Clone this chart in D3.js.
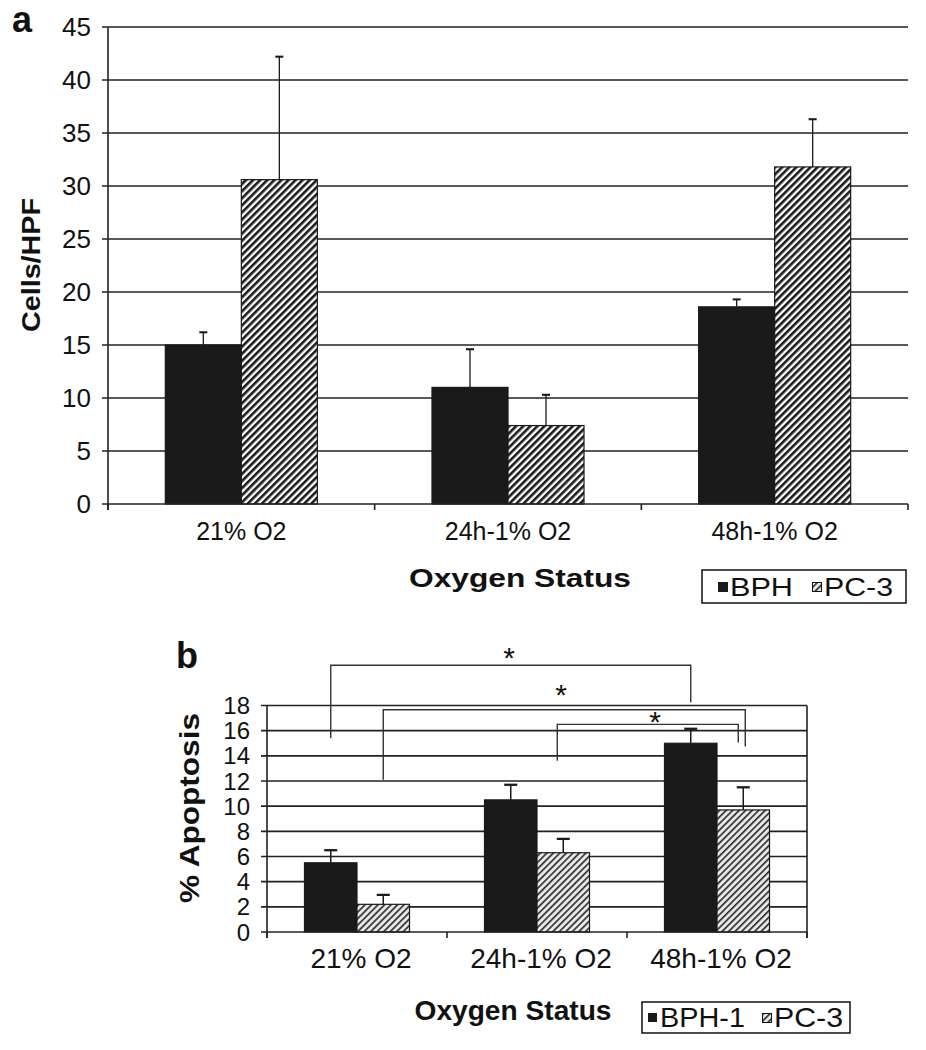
<!DOCTYPE html>
<html><head><meta charset="utf-8">
<script src="https://cdn.jsdelivr.net/npm/d3@7"></script>
<style>body{margin:0;background:#fff}svg{display:block}text{font-family:Arial,"Liberation Sans",Helvetica,sans-serif;fill:#111}</style>
</head><body>
<svg id="c" width="926" height="1050"></svg>
<script>
// ---------- data ----------
const categories = ["21% O2", "24h-1% O2", "48h-1% O2"];
// Panel a: Cells/HPF
const seriesA = ["BPH", "PC-3"];
const aBPH = [15.0, 11.0, 18.6];
const aBPHerr = [16.2, 14.6, 19.3];
const aPC3 = [30.6, 7.4, 31.8];
const aPC3err = [42.2, 10.3, 36.3];
const aTicks = [0, 5, 10, 15, 20, 25, 30, 35, 40, 45];
// Panel b: % Apoptosis
const seriesB = ["BPH-1", "PC-3"];
const bBPH = [5.5, 10.5, 15.0];
const bBPHerr = [6.5, 11.7, 16.15];
const bPC3 = [2.2, 6.3, 9.7];
const bPC3err = [2.95, 7.4, 11.5];
const bTicks = [0, 2, 4, 6, 8, 10, 12, 14, 16, 18];
// significance brackets: [catFrom, seriesFrom, catTo, seriesTo, level, dropFrom, dropTo, starLevel]
const brackets = [
  [0, 0, 2, 0, 21.2, 15.4, 18.25, 22.3],
  [0, 1, 2, 1, 17.66, 12.1, 14.75, 19.4],
  [1, 1, 2, 1, 16.5, 13.6, 15.05, 17.25]
];
const starX = [509, 561, 655];

const svg = d3.select("#c");
const defs = svg.append("defs");
const pa = defs.append("pattern").attr("id", "hatchA").attr("patternUnits", "userSpaceOnUse")
  .attr("width", 5).attr("height", 5).attr("patternTransform", "rotate(45)");
pa.append("rect").attr("width", 5).attr("height", 5).attr("fill", "#fff");
pa.append("rect").attr("width", 2.6).attr("height", 5).attr("fill", "#1a1a1a");
const pb = defs.append("pattern").attr("id", "hatchB").attr("patternUnits", "userSpaceOnUse")
  .attr("width", 4.6).attr("height", 4.6).attr("patternTransform", "rotate(45)");
pb.append("rect").attr("width", 4.6).attr("height", 4.6).attr("fill", "#e8e8e8");
pb.append("rect").attr("width", 1.7).attr("height", 4.6).attr("fill", "#333");

function panel(o) {
  const g = svg.append("g");
  const x = d3.scaleBand().domain(categories).range([o.left, o.right]).padding(0);
  const xs = d3.scaleBand().domain(o.series).range([0, x.bandwidth()]).paddingInner(0).paddingOuter(o.pad);
  const y = d3.scaleLinear().domain([0, o.ticks[o.ticks.length - 1]]).range([o.bottom, o.top]);
  g.append("g").selectAll("line").data(o.ticks.filter(t => t > 0)).join("line")
    .attr("x1", o.left - o.tick).attr("x2", o.right).attr("y1", d => y(d)).attr("y2", d => y(d))
    .attr("stroke", "#222").attr("stroke-width", o.gw);
  g.append("g").selectAll("text").data(o.ticks).join("text")
    .attr("x", o.labX).attr("y", d => y(d)).attr("dy", "0.36em").attr("text-anchor", "end")
    .attr("font-size", o.tfs).text(d => d);
  const rows = categories.map((c, i) => [
    { c, s: o.series[0], v: o.v1[i], e: o.e1[i], fill: "#1a1a1a" },
    { c, s: o.series[1], v: o.v2[i], e: o.e2[i], fill: o.hatch }
  ]).flat();
  g.append("g").selectAll("rect").data(rows).join("rect")
    .attr("x", d => x(d.c) + xs(d.s)).attr("width", xs.bandwidth())
    .attr("y", d => y(d.v)).attr("height", d => y(0) - y(d.v))
    .attr("fill", d => d.fill).attr("stroke", "#1a1a1a").attr("stroke-width", 1.2);
  const eb = g.append("g").attr("stroke", "#1a1a1a").attr("stroke-width", o.ew);
  rows.forEach(d => {
    const cx = x(d.c) + xs(d.s) + xs.bandwidth() / 2;
    eb.append("line").attr("x1", cx).attr("x2", cx).attr("y1", y(d.v)).attr("y2", y(d.e));
    eb.append("line").attr("x1", cx - o.cap / 2).attr("x2", cx + o.cap / 2).attr("y1", y(d.e)).attr("y2", y(d.e)).attr("stroke-width", o.ew + 0.8);
  });
  g.append("line").attr("x1", o.left).attr("x2", o.left).attr("y1", y(o.ticks[o.ticks.length - 1])).attr("y2", o.bottom + o.tick)
    .attr("stroke", "#222").attr("stroke-width", o.gw);
  g.append("line").attr("x1", o.left - o.tick).attr("x2", o.right).attr("y1", o.bottom).attr("y2", o.bottom)
    .attr("stroke", "#222").attr("stroke-width", o.gw);
  if (o.frame) g.append("line").attr("x1", o.right).attr("x2", o.right).attr("y1", o.top).attr("y2", o.bottom + o.tick)
    .attr("stroke", "#222").attr("stroke-width", o.gw);
  const bounds = categories.map(c => x(c)).concat([o.right]);
  g.append("g").selectAll("line").data(bounds).join("line")
    .attr("x1", d => d).attr("x2", d => d).attr("y1", o.bottom).attr("y2", o.bottom + o.tick)
    .attr("stroke", "#222").attr("stroke-width", o.gw);
  g.append("g").selectAll("text").data(categories).join("text")
    .attr("x", d => x(d) + x.bandwidth() / 2 + o.labDx).attr("y", o.xlabY).attr("text-anchor", "middle")
    .attr("font-size", o.xfs).text(d => d);
  return { g, x, xs, y };
}

// ---------- panel a ----------
const A = panel({ left: 108, right: 908, top: 27, bottom: 504, ticks: aTicks, series: seriesA,
  v1: aBPH, e1: aBPHerr, v2: aPC3, e2: aPC3err, hatch: "url(#hatchA)", pad: 0.754,
  tick: 6, gw: 1.6, ew: 1.3, cap: 8, labX: 91, tfs: 26, xfs: 25, xlabY: 540, labDx: 0, frame: false });
svg.append("text").attr("x", 12).attr("y", 32).attr("font-size", 36).attr("font-weight", "bold").text("a");
svg.append("text").attr("transform", "translate(40,265) rotate(-90)").attr("text-anchor", "middle")
  .attr("font-size", 26).attr("font-weight", "bold").attr("textLength", 134).attr("lengthAdjust", "spacingAndGlyphs").text("Cells/HPF");
svg.append("text").attr("x", 520).attr("y", 587).attr("text-anchor", "middle")
  .attr("font-size", 26).attr("font-weight", "bold").attr("textLength", 222).attr("lengthAdjust", "spacingAndGlyphs").text("Oxygen Status");
const la = svg.append("g");
la.append("rect").attr("x", 702).attr("y", 570).attr("width", 204).attr("height", 33).attr("fill", "#fff").attr("stroke", "#111").attr("stroke-width", 1.5);
la.append("rect").attr("x", 718).attr("y", 582).attr("width", 10).attr("height", 10).attr("fill", "#1a1a1a");
la.append("text").attr("x", 730).attr("y", 596).attr("font-size", 25).attr("textLength", 63).attr("lengthAdjust", "spacingAndGlyphs").text(seriesA[0]);
la.append("rect").attr("x", 812.5).attr("y", 582.5).attr("width", 9).attr("height", 9).attr("fill", "url(#hatchB)").attr("stroke", "#111").attr("stroke-width", 1);
la.append("text").attr("x", 824).attr("y", 596).attr("font-size", 25).attr("textLength", 69).attr("lengthAdjust", "spacingAndGlyphs").text(seriesA[1]);

// ---------- panel b ----------
const B = panel({ left: 267, right: 807, top: 705.5, bottom: 932, ticks: bTicks, series: seriesB,
  v1: bBPH, e1: bBPHerr, v2: bPC3, e2: bPC3err, hatch: "url(#hatchB)", pad: 0.714,
  tick: 6, gw: 1.6, ew: 1.5, cap: 13, labX: 250, tfs: 24, xfs: 28, xlabY: 968, labDx: 4, frame: true });
svg.append("text").attr("x", 176).attr("y", 668).attr("font-size", 36).attr("font-weight", "bold").text("b");
svg.append("text").attr("transform", "translate(199,808) rotate(-90)").attr("text-anchor", "middle")
  .attr("font-size", 27).attr("font-weight", "bold").attr("textLength", 190).attr("lengthAdjust", "spacingAndGlyphs").text("% Apoptosis");
svg.append("text").attr("x", 513).attr("y", 1020).attr("text-anchor", "middle")
  .attr("font-size", 27).attr("font-weight", "bold").attr("textLength", 197).attr("lengthAdjust", "spacingAndGlyphs").text("Oxygen Status");
const bg = svg.append("g").attr("fill", "none").attr("stroke", "#333").attr("stroke-width", 1.4);
brackets.forEach(([c1, s1, c2, s2, lv, d1, d2], i) => {
  const x1 = B.x(categories[c1]) + B.xs(seriesB[s1]) + B.xs.bandwidth() / 2 - (i === 2 ? 6 : 0);
  const x2 = B.x(categories[c2]) + B.xs(seriesB[s2]) + B.xs.bandwidth() / 2 + (i === 1 ? 2 : 0) - (i === 2 ? 5 : 0);
  bg.append("path").attr("d", `M${x1},${B.y(d1)}V${B.y(lv)}H${x2}V${B.y(d2)}`);
});
svg.append("g").selectAll("text").data(brackets).join("text")
  .attr("x", (d, i) => starX[i]).attr("y", d => B.y(d[7]) + 17).attr("text-anchor", "middle")
  .attr("font-size", 30).text("*");
const lb = svg.append("g");
lb.append("rect").attr("x", 642).attr("y", 1002).attr("width", 208).attr("height", 31).attr("fill", "#fff").attr("stroke", "#111").attr("stroke-width", 1.5);
lb.append("rect").attr("x", 648).attr("y", 1013).attr("width", 9).attr("height", 9).attr("fill", "#1a1a1a");
lb.append("text").attr("x", 660).attr("y", 1027).attr("font-size", 28).attr("textLength", 85).attr("lengthAdjust", "spacingAndGlyphs").text(seriesB[0]);
lb.append("rect").attr("x", 762.5).attr("y", 1013.5).attr("width", 9).attr("height", 9).attr("fill", "url(#hatchB)").attr("stroke", "#111").attr("stroke-width", 1);
lb.append("text").attr("x", 774).attr("y", 1027).attr("font-size", 28).attr("textLength", 69).attr("lengthAdjust", "spacingAndGlyphs").text(seriesB[1]);
</script>
</body></html>
